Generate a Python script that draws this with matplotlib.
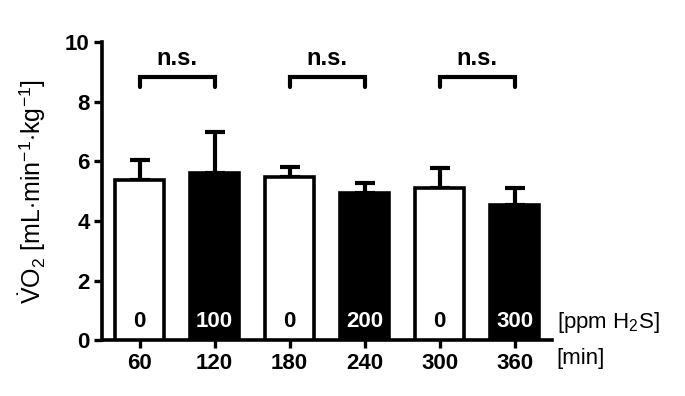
import matplotlib
matplotlib.use('Agg')
import matplotlib.pyplot as plt

plt.rcParams['font.family'] = 'Liberation Sans'
plt.rcParams['mathtext.fontset'] = 'custom'
plt.rcParams['mathtext.rm'] = 'Liberation Sans'
plt.rcParams['mathtext.it'] = 'Liberation Sans:italic'
plt.rcParams['mathtext.bf'] = 'Liberation Sans:bold'

time_labels = ['60', '120', '180', '240', '300', '360']
h2s_labels = ['0', '100', '0', '200', '0', '300']
vo2_mean = [5.37, 5.6, 5.47, 4.93, 5.1, 4.53]
vo2_err = [0.67, 1.38, 0.33, 0.34, 0.67, 0.57]
bar_colors = ['white', 'black', 'white', 'black', 'white', 'black']
text_colors = ['black', 'white', 'black', 'white', 'black', 'white']
brackets = [(0, 1), (2, 3), (4, 5)]

fig = plt.figure(figsize=(6.85, 3.96), dpi=100)
ax = fig.add_axes([0.149, 0.141, 0.657, 0.753])

x = list(range(1, len(time_labels) + 1))
ax.bar(x, vo2_mean, width=0.66, color=bar_colors, edgecolor='black', linewidth=2.6, zorder=3)
ax.errorbar(x, vo2_mean, yerr=[[0] * len(vo2_err), vo2_err], fmt='none', ecolor='black',
            elinewidth=3, capsize=7, capthick=3, zorder=2)

for xi, lab, c in zip(x, h2s_labels, text_colors):
    ax.text(xi, 0.62, lab, ha='center', va='center', color=c, fontsize=16, fontweight='bold', zorder=4)

for a, b in brackets:
    xa, xb = x[a], x[b]
    ax.plot([xa, xa, xb, xb], [8.5, 8.83, 8.83, 8.5], color='black', lw=3, solid_capstyle='round',
            solid_joinstyle='miter', clip_on=False)
    ax.text((xa + xb) / 2, 9.05, 'n.s.', ha='center', va='bottom', fontsize=17, fontweight='bold')

ax.set_xlim(0.5, 6.5)
ax.set_ylim(0, 10)
ax.set_yticks([0, 2, 4, 6, 8, 10])
ax.set_xticks(x)
ax.set_xticklabels(time_labels)
for lab in ax.get_xticklabels() + ax.get_yticklabels():
    lab.set_fontweight('bold')
    lab.set_fontsize(16)
ax.tick_params(axis='both', direction='out', length=6, width=2.4, pad=3)

for side in ['top', 'right']:
    ax.spines[side].set_visible(False)
for side in ['left', 'bottom']:
    ax.spines[side].set_linewidth(2.6)

ax.set_ylabel(r'$\dot{\mathrm{V}}\mathrm{O}_2$ [mL$\cdot$min$^{-1}$$\cdot$kg$^{-1}$]', fontsize=18, labelpad=12)

ax.text(1.01, 0.06, r'[ppm H$_2$S]', transform=ax.transAxes, ha='left', va='center', fontsize=16)
ax.text(1.01, -0.06, '[min]', transform=ax.transAxes, ha='left', va='center', fontsize=16)

fig.savefig('out.png', dpi=100)
